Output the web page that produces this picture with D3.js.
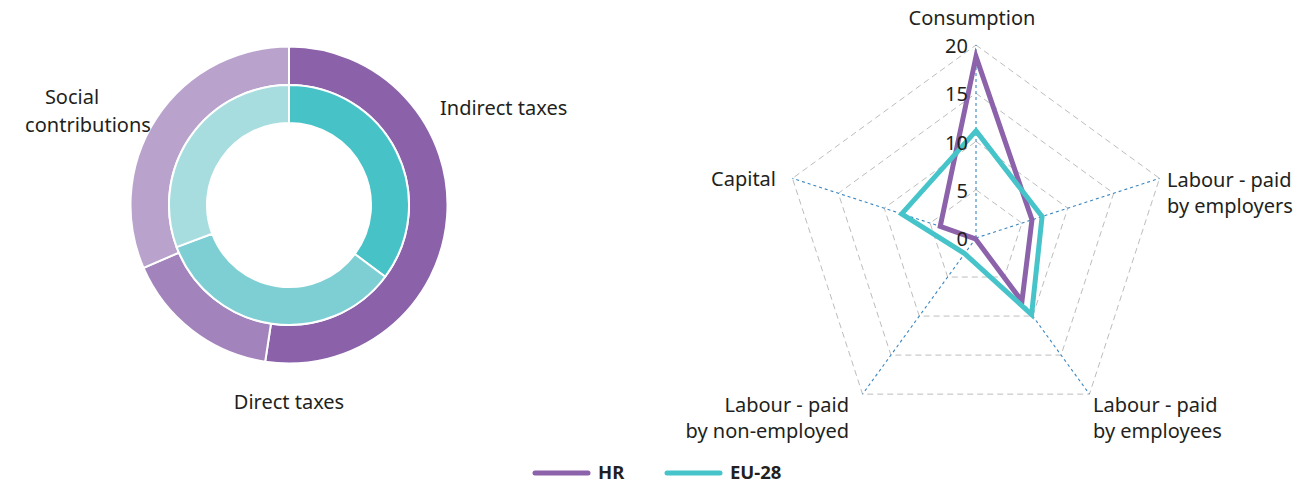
<!DOCTYPE html>
<html>
<head>
<meta charset="utf-8">
<script src="https://cdn.jsdelivr.net/npm/d3@7"></script>
<style>
  html, body { margin: 0; padding: 0; background: #fff; }
  svg text { font-family: "Noto Sans", "Open Sans", sans-serif; fill: #231f20; }
</style>
</head>
<body>
<svg id="chart" width="1307" height="484"></svg>
<script>
// Tax structure shares (%), outer ring = HR, inner ring = EU-28
const taxCategories = ["Indirect taxes", "Direct taxes", "Social contributions"];
const hrShares = [52.4, 16.1, 31.5];
const euShares = [35.2, 34.1, 30.7];

// Implicit tax rates by economic function
const radarAxes = ["Consumption", "Labour - paid by employers", "Labour - paid by employees",
                   "Labour - paid by non-employed", "Capital"];
const hrRates = [18.8, 6.1, 8.1, 0.1, 3.9];
const euRates = [11.1, 7.2, 9.8, 2.0, 8.1];
const radarTicks = [0, 5, 10, 15, 20];

const seriesNames = ["HR", "EU-28"];
const seriesColors = ["#8c62aa", "#47c4c9"];
const hrRingColors = ["#8b62a9", "#a383bc", "#b9a3cd"];
const euRingColors = ["#47c3c8", "#7ecfd4", "#a8dde0"];

const svg = d3.select("#chart");

// ---------- Double donut ----------
const donut = svg.append("g").attr("transform", "translate(289,205)");
const pie = d3.pie().sort(null).value(d => d);

const outerArc = d3.arc().innerRadius(120).outerRadius(158.5);
const innerArc = d3.arc().innerRadius(82).outerRadius(120);

donut.selectAll("path.hr")
  .data(pie(hrShares))
  .join("path")
  .attr("class", "hr")
  .attr("d", outerArc)
  .attr("fill", (d, i) => hrRingColors[i])
  .attr("stroke", "#fff")
  .attr("stroke-width", 2);

donut.selectAll("path.eu")
  .data(pie(euShares))
  .join("path")
  .attr("class", "eu")
  .attr("d", innerArc)
  .attr("fill", (d, i) => euRingColors[i])
  .attr("stroke", "#fff")
  .attr("stroke-width", 2);

// ring labels: one entry per text line
const donutLabels = [
  { text: "Indirect taxes", x: 440, y: 115, anchor: "start" },
  { text: "Direct taxes", x: 289, y: 409, anchor: "middle" },
  { text: "Social", x: 72, y: 104, anchor: "middle" },
  { text: "contributions", x: 88, y: 132, anchor: "middle" }
];
svg.selectAll("text.ring-label")
  .data(donutLabels)
  .join("text")
  .attr("class", "ring-label")
  .attr("x", d => d.x).attr("y", d => d.y)
  .attr("text-anchor", d => d.anchor)
  .attr("font-size", 20)
  .text(d => d.text);

// ---------- Radar ----------
const cx = 976, cy = 238, R = 193;
const radar = svg.append("g").attr("transform", `translate(${cx},${cy})`);
const rScale = d3.scaleLinear().domain([0, 20]).range([0, R]);
const angle = i => (i * 2 * Math.PI) / radarAxes.length;
const pt = (i, v) => [rScale(v) * Math.sin(angle(i)), -rScale(v) * Math.cos(angle(i))];

// grid pentagons
radarTicks.filter(t => t > 0).forEach(t => {
  radar.append("path")
    .attr("d", d3.line()(radarAxes.map((a, i) => pt(i, t))) + "Z")
    .attr("fill", "none")
    .attr("stroke", "#bdbdbd")
    .attr("stroke-width", 1)
    .attr("stroke-dasharray", "6,4");
});

// spokes
radarAxes.forEach((a, i) => {
  const [x, y] = pt(i, 20);
  radar.append("line")
    .attr("x1", 0).attr("y1", 0).attr("x2", x).attr("y2", y)
    .attr("stroke", "#3a86c0")
    .attr("stroke-width", 1.1)
    .attr("stroke-dasharray", "3,3");
});

// series
const lineGen = d3.line().curve(d3.curveLinearClosed);
[hrRates, euRates].forEach((vals, s) => {
  radar.append("path")
    .attr("d", lineGen(vals.map((v, i) => pt(i, v))))
    .attr("fill", "none")
    .attr("stroke", seriesColors[s])
    .attr("stroke-width", 5)
    .attr("stroke-linejoin", "miter");
});

// tick labels
radar.selectAll("text.tick")
  .data(radarTicks)
  .join("text")
  .attr("class", "tick")
  .attr("x", -8)
  .attr("y", d => -rScale(d) + 8)
  .attr("text-anchor", "end")
  .attr("font-size", 20)
  .text(d => d);

// axis labels
const axisLabelPos = [
  { lines: ["Consumption"], x: 972, y: 25, anchor: "middle" },
  { lines: ["Labour - paid", "by employers"], x: 1167, y: 187, anchor: "start" },
  { lines: ["Labour - paid", "by employees"], x: 1093, y: 412, anchor: "start" },
  { lines: ["Labour - paid", "by non-employed"], x: 849, y: 412, anchor: "end" },
  { lines: ["Capital"], x: 776, y: 186, anchor: "end" }
];
axisLabelPos.forEach(l => {
  const t = svg.append("text")
    .attr("x", l.x).attr("y", l.y)
    .attr("text-anchor", l.anchor)
    .attr("font-size", 20);
  t.selectAll("tspan").data(l.lines).join("tspan")
    .attr("x", l.x)
    .attr("dy", (d, j) => j === 0 ? 0 : 26)
    .text(d => d);
});

// ---------- Legend ----------
const legend = svg.append("g").attr("transform", "translate(533,473)");
const legendX = [0, 132];
seriesNames.forEach((name, i) => {
  const g = legend.append("g").attr("transform", `translate(${legendX[i]},0)`);
  g.append("line")
    .attr("x1", 2).attr("x2", 55).attr("y1", 0).attr("y2", 0)
    .attr("stroke", seriesColors[i])
    .attr("stroke-width", 5)
    .attr("stroke-linecap", "round");
  g.append("text")
    .attr("x", 65).attr("y", 6)
    .attr("font-size", 18.5)
    .attr("font-weight", "bold")
    .text(name);
});
</script>
</body>
</html>
